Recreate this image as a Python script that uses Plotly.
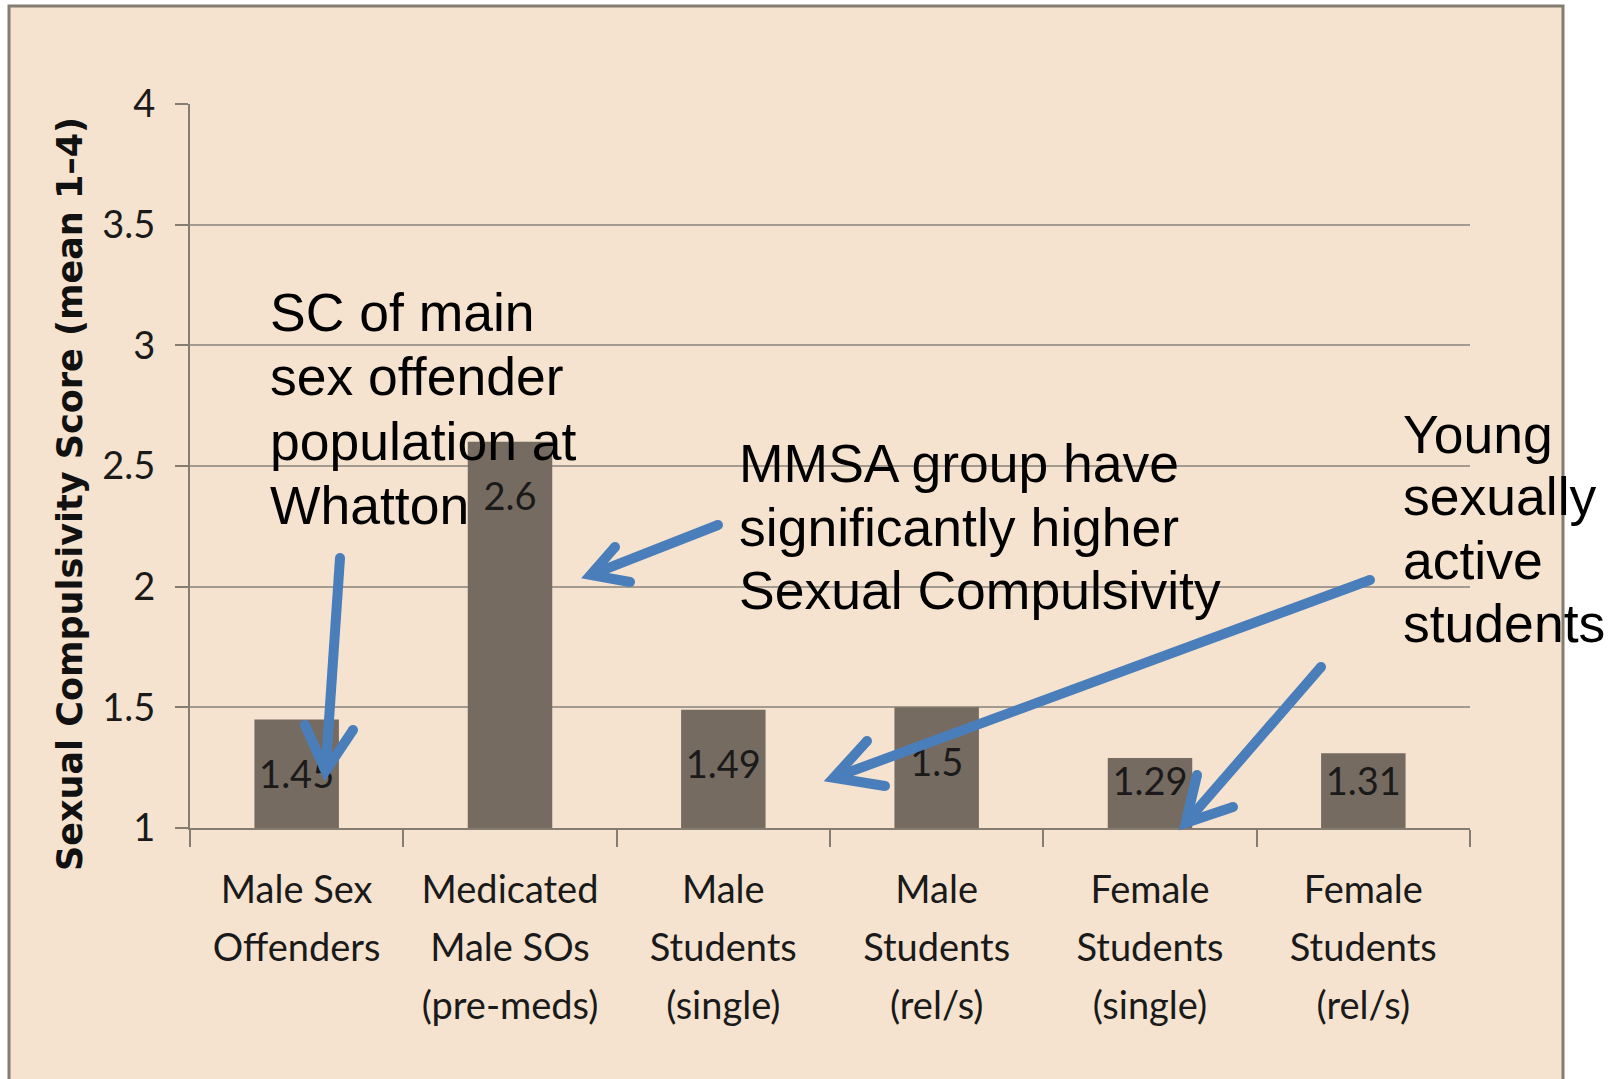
import math
import plotly.graph_objects as go

# ---- data ----
categories = [
    "Male Sex<br>Offenders",
    "Medicated<br>Male SOs<br>(pre-meds)",
    "Male<br>Students<br>(single)",
    "Male<br>Students<br>(rel/s)",
    "Female<br>Students<br>(single)",
    "Female<br>Students<br>(rel/s)",
]
scores = [1.45, 2.6, 1.49, 1.5, 1.29, 1.31]
y_ticks = [1, 1.5, 2, 2.5, 3, 3.5, 4]
y_title = "Sexual Compulsivity Score (mean 1\u20134)"

note_offender = ["SC of main", "sex offender", "population at", "Whatton"]
note_mmsa = ["MMSA group have", "significantly higher", "Sexual Compulsivity"]
note_students = ["Young", "sexually", "active", "students"]

# ---- layout geometry (pixels) ----
W, H = 1615, 1079
PL, PR, PT, PB = 190, 1470, 104, 828


def pxx(x):
    return (x - PL) / (PR - PL)


def pxy(y):
    return (PB - y) / (PB - PT)


BG = "#f5e3cf"
BAR = "#766b61"
GRID = "#a39a90"
FRAME = "#857c72"
BLUE = "#4a7ebb"
NARROW = "Lato, DejaVu Sans Condensed, sans-serif"
ARIAL = "Liberation Sans, Arial, sans-serif"

# tick label text: wider line spacing via larger base font, smaller glyphs
tick_text = ["<br>".join(f'<span style="font-size:38px">{ln}</span>'
                         for ln in c.split("<br>")) for c in categories]

# label placement (inside end, clamped for short bars)
label_y = [max(v - 0.245, 1.175) for v in scores]

fig = go.Figure()
fig.add_trace(go.Bar(
    x=categories, y=scores, marker=dict(color=BAR, line=dict(width=0)),
    showlegend=False, hoverinfo="skip",
))
fig.add_trace(go.Scatter(
    x=categories, y=label_y, mode="text", text=[str(v) for v in scores],
    textfont=dict(family=NARROW, size=38, color="#1a1a1a"),
    showlegend=False, hoverinfo="skip",
))

shapes = [
    dict(type="rect", xref="paper", yref="paper", layer="below",
         x0=pxx(9), x1=pxx(1563), y0=pxy(6), y1=pxy(1100),
         fillcolor=BG, line=dict(color=FRAME, width=3)),
]

# arrows: start, tip, arm1, arm2 (pixel positions of the drawn annotations)
arrows = [
    ((340, 558), (325, 778), (305, 725), (353, 730)),
    ((718, 525), (584, 577), (615, 547), (630, 582)),
    ((1370, 580), (827, 780), (867, 741), (885, 786)),
    ((1321, 667), (1181, 828), (1197, 775), (1233, 807)),
]
for s, t, a1, a2 in arrows:
    mx, my = (a1[0] + a2[0]) / 2 - t[0], (a1[1] + a2[1]) / 2 - t[1]
    d = math.hypot(mx, my)
    t = (t[0] + 7 * mx / d, t[1] + 7 * my / d)
    shapes.append(dict(
        type="path", xref="paper", yref="paper", layer="above",
        path=f"M{pxx(s[0])},{pxy(s[1])} L{pxx(t[0])},{pxy(t[1])}",
        line=dict(color=BLUE, width=10)))
    shapes.append(dict(
        type="path", xref="paper", yref="paper", layer="above",
        path=(f"M{pxx(a1[0])},{pxy(a1[1])} L{pxx(t[0])},{pxy(t[1])} "
              f"L{pxx(a2[0])},{pxy(a2[1])}"),
        line=dict(color=BLUE, width=10)))
    for e in (a1, a2, s):
        r = 5
        shapes.append(dict(
            type="circle", xref="paper", yref="paper", layer="above",
            x0=pxx(e[0] - r), x1=pxx(e[0] + r), y0=pxy(e[1] + r), y1=pxy(e[1] - r),
            fillcolor=BLUE, line=dict(width=0)))

annotations = [
    dict(text=y_title, xref="paper", yref="paper", x=pxx(70), y=pxy(494),
         textangle=-90, showarrow=False, xanchor="center", yanchor="middle",
         font=dict(family="DejaVu Sans, Verdana, sans-serif", size=35,
                   color="#111111", weight="bold")),
]


def add_lines(lines, left, centers):
    for txt, cy in zip(lines, centers):
        annotations.append(dict(
            text=txt, xref="paper", yref="paper", x=pxx(left), y=pxy(cy + 1.5),
            showarrow=False, xanchor="left", yanchor="middle",
            font=dict(family=ARIAL, size=53.5, color="#000000")))


add_lines(note_offender, 268, [310.5, 375, 440, 504])
add_lines(note_mmsa, 737, [462, 525.5, 589])
add_lines(note_students, 1401, [432.5, 495, 558.5, 622])

fig.update_layout(
    width=W, height=H,
    margin=dict(l=PL, r=W - PR, t=PT, b=H - PB, pad=0, autoexpand=False),
    paper_bgcolor="#ffffff", plot_bgcolor="rgba(0,0,0,0)",
    bargap=0.604,
    shapes=shapes, annotations=annotations,
    xaxis=dict(
        type="category", tickson="boundaries", ticks="outside", ticklen=17,
        tickwidth=2, tickcolor=FRAME, showline=True, linecolor=FRAME, linewidth=2,
        showgrid=False, ticklabelstandoff=20, tickangle=0, automargin=False,
        tickmode="array", tickvals=categories, ticktext=tick_text,
        tickfont=dict(family=NARROW, size=44.5, color="#1a1a1a"),
        range=[-0.5, 5.5],
    ),
    yaxis=dict(
        range=[1, 4], tickvals=y_ticks, ticks="outside", ticklen=13, tickwidth=2,
        tickcolor=FRAME, showline=True, linecolor=FRAME, linewidth=2,
        showgrid=True, gridcolor=GRID, gridwidth=2, zeroline=False,
        ticklabelstandoff=12, automargin=False,
        tickfont=dict(family=NARROW, size=38, color="#1a1a1a"),
    ),
)

fig.write_html("out.html", config={"displayModeBar": False},
               post_script="document.body.style.margin='0';")
